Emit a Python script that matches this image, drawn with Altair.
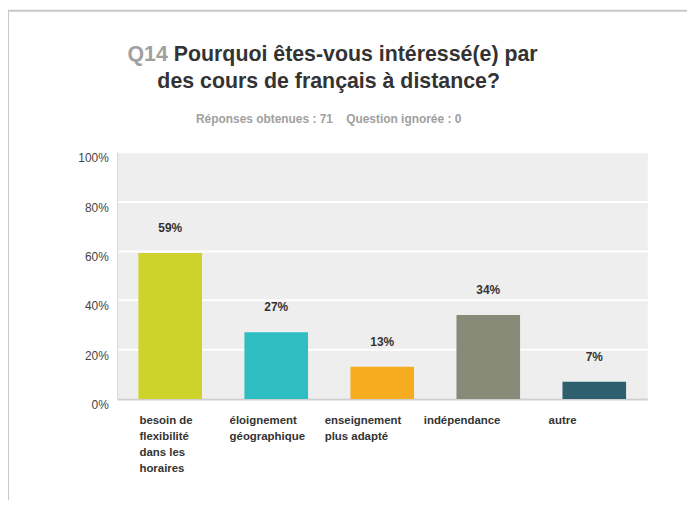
import altair as alt
import pandas as pd

categories = ["besoin de\nflexibilité\ndans les\nhoraires", "éloignement\ngéographique",
              "enseignement\nplus adapté", "indépendance", "autre"]
values = [59, 27, 13, 34, 7]
colors = ["#CDD32B", "#2EBDC1", "#F5AC1E", "#878A77", "#2E5F6E"]
y_ticks = [0, 10, 20, 30, 40, 50, 60, 70, 80, 90, 100]

title_q = "Q14"
title_line1 = "Pourquoi êtes-vous intéressé(e) par"
title_line2 = "des cours de français à distance?"
subtitle = "Réponses obtenues : 71\u00a0\u00a0\u00a0\u00a0Question ignorée : 0"

REG = "Liberation Sans, Arial"

df = pd.DataFrame({"cat": categories, "val": values,
                   "label": [f"{v}%" for v in values]})

W, H = 534, 249

label_offset = {
    "condition": [
        {"test": "indexof(datum.value, 'besoin') == 0", "value": -31},
        {"test": "indexof(datum.value, 'éloign') == 0", "value": -47},
        {"test": "indexof(datum.value, 'enseign') == 0", "value": -58},
        {"test": "indexof(datum.value, 'indép') == 0", "value": -65},
    ],
    "value": -46,
}

x = alt.X("cat:N", sort=None,
          scale=alt.Scale(paddingInner=0.4, paddingOuter=0.2),
          axis=alt.Axis(title=None, labelAngle=0, labelAlign="left", labelBaseline="top",
                        labelOffset=label_offset, labelPadding=16,
                        labelExpr="split(datum.label, '\\n')",
                        labelFont=REG, labelFontSize=11.5, labelFontWeight="bold",
                        labelColor="#333333", labelLineHeight=16, labelLimit=200,
                        ticks=False, domainColor="#CFCFCF", domainWidth=2))
y = alt.Y("val:Q", scale=alt.Scale(domain=[0, 100]),
          axis=alt.Axis(title=None, values=y_ticks,
                        labelExpr="datum.value % 20 == 0 ? datum.value + '%' : ''",
                        grid=True, gridColor="#FFFFFF", gridWidth=2, ticks=False,
                        domainColor="#D8D8D8", domainWidth=1,
                        labelBaseline="top", labelOffset=1, labelPadding=9,
                        labelColor="#444444", labelFontSize=12, labelFont=REG))

base = alt.Chart(df)
bars = base.mark_bar().encode(
    x=x, y=y,
    color=alt.Color("cat:N", sort=None, scale=alt.Scale(domain=categories, range=colors), legend=None),
)
vlabels = base.mark_text(baseline="bottom", dy=-18, font=REG, fontSize=12,
                         fontWeight="bold", color="#333333").encode(
    x=alt.X("cat:N", sort=None), y="val:Q", text="label:N")

one = pd.DataFrame({"q": [title_q], "l1": [title_line1], "l2": [title_line2], "s": [subtitle]})
t = alt.Chart(one)
tq = t.mark_text(align="right", baseline="alphabetic", font=REG, fontSize=21.5,
                 fontWeight="bold", color="#A0A0A0").encode(
    x=alt.value(51), y=alt.value(-91), text="q:N")
t1 = t.mark_text(align="left", baseline="alphabetic", font=REG, fontSize=21.5,
                 fontWeight="bold", color="#333333").encode(
    x=alt.value(57), y=alt.value(-91), text="l1:N")
t2 = t.mark_text(align="center", baseline="alphabetic", font=REG, fontSize=21.5,
                 fontWeight="bold", color="#333333").encode(
    x=alt.value(213), y=alt.value(-64), text="l2:N")
ts = t.mark_text(align="center", baseline="alphabetic", font=REG, fontSize=12,
                 fontWeight="bold", color="#A0A0A0").encode(
    x=alt.value(213), y=alt.value(-29), text="s:N")

border_top = t.mark_rule(color="#C8C8C8", strokeWidth=2).encode(
    x=alt.value(-110), x2=alt.value(W + 60), y=alt.value(-142))
border_left = t.mark_rule(color="#C8C8C8", strokeWidth=2).encode(
    x=alt.value(-110), y=alt.value(-142), y2=alt.value(H + 110))

chart = alt.layer(bars, vlabels, tq, t1, t2, ts, border_top, border_left).properties(
    width=W, height=H, autosize="none",
    padding={"left": 110, "top": 143, "right": 40, "bottom": 100},
).configure_view(fill="#EEEEEE", stroke="transparent")

chart.save("out.html", embed_options={"renderer": "svg", "actions": False})
